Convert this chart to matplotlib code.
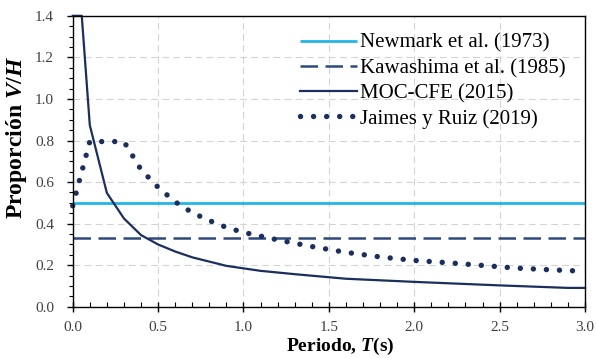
import matplotlib
matplotlib.use("Agg")
import matplotlib.pyplot as plt

plt.rcParams['font.family'] = ['Liberation Serif', 'DejaVu Serif']
plt.rcParams['mathtext.fontset'] = 'custom'
plt.rcParams['mathtext.it'] = 'Liberation Serif:italic:bold'
plt.rcParams['mathtext.rm'] = 'Liberation Serif:bold'
plt.rcParams['mathtext.bf'] = 'Liberation Serif:bold'

# Data
newmark_T = [0.0, 3.0]
newmark_v = [0.5, 0.5]
kawashima_T = [0.0, 3.0]
kawashima_v = [1/3, 1/3]
moc_T = [0.0, 0.053, 0.1, 0.2, 0.3, 0.4, 0.5, 0.6, 0.7, 0.9, 1.1, 1.3, 1.6, 2.0, 2.5, 2.9, 3.0]
moc_v = [1.4, 1.4, 0.874, 0.548, 0.425, 0.345, 0.300, 0.266, 0.238, 0.197, 0.173, 0.157, 0.135, 0.120, 0.103, 0.091, 0.091]
jr_T = [0.0, 0.1, 0.3, 0.34, 0.4, 0.5, 0.6, 0.7, 0.8, 0.9, 1.0, 1.2, 1.4, 1.6, 1.8, 2.0, 2.2, 2.4, 2.6, 2.8, 3.0]
jr_v = [0.486, 0.795, 0.795, 0.741, 0.660, 0.575, 0.505, 0.453, 0.415, 0.382, 0.358, 0.322, 0.290, 0.262, 0.240, 0.223, 0.212, 0.199, 0.186, 0.178, 0.171]
labels = ['Newmark et al. (1973)', 'Kawashima et al. (1985)', 'MOC-CFE (2015)', 'Jaimes y Ruiz (2019)']

c_light = '#22B5E8'
c_dash = '#2E4A7C'
c_navy = '#1B2F5E'

fig = plt.figure(figsize=(5.96, 3.58), dpi=100)
ax = fig.add_axes([0.122, 0.143, 0.8596, 0.8128])

ax.set_xlim(0, 3.0)
ax.set_ylim(0, 1.4)
ax.set_xticks([0, 0.5, 1.0, 1.5, 2.0, 2.5, 3.0])
ax.set_yticks([0, 0.2, 0.4, 0.6, 0.8, 1.0, 1.2, 1.4])
ax.set_xticks([i * 0.1 for i in range(31)], minor=True)
ax.set_yticks([i * 0.05 for i in range(29)], minor=True)
ax.xaxis.set_major_formatter(matplotlib.ticker.FormatStrFormatter('%.1f'))
ax.yaxis.set_major_formatter(matplotlib.ticker.FormatStrFormatter('%.1f'))
ax.tick_params(axis='x', which='major', direction='inout', length=7, width=1, labelsize=11, pad=6.5)
ax.tick_params(axis='x', which='minor', direction='in', length=3.5, width=0.8)
ax.tick_params(axis='y', which='major', direction='out', length=4.5, width=1, labelsize=11, pad=9)
ax.tick_params(axis='y', which='minor', direction='out', length=3, width=0.8)
for lab in ax.get_xticklabels() + ax.get_yticklabels():
    lab.set_color('#404040')

ax.grid(True, which='major', color='#D3D3D3', linestyle=(0, (6, 4)), linewidth=0.8)
ax.set_axisbelow(True)
for s in ax.spines.values():
    s.set_linewidth(1.0)
    s.set_color('black')

ax.plot(newmark_T, newmark_v, color=c_light, lw=2.0, solid_capstyle='butt', label=labels[0])
ax.plot(kawashima_T, kawashima_v, color=c_dash, lw=1.8, linestyle=(0, (7, 3)), label=labels[1])
ax.plot(moc_T, moc_v, color=c_navy, lw=1.6, label=labels[2], clip_on=False)
ax.plot(jr_T, jr_v, color=c_navy, lw=3.9, linestyle=(0, (0.01, 2.4)), dash_capstyle='round',
        label=labels[3], clip_on=False)

leg = ax.legend(loc='upper left', bbox_to_anchor=(0.4437, 0.94), frameon=False, fontsize=15,
                handlelength=2.74, handletextpad=0.12, labelspacing=0.27, borderaxespad=0.0,
                borderpad=0.0)

ax.set_xlabel(r'Periodo, $T$(s)', fontsize=14, fontweight='bold')
ax.xaxis.set_label_coords(0.522, -0.101)
ax.set_ylabel(r'Proporción $V/H$', fontsize=17, fontweight='bold')
ax.yaxis.set_label_coords(-0.085, 0.581)

fig.savefig('out.png', dpi=100)
